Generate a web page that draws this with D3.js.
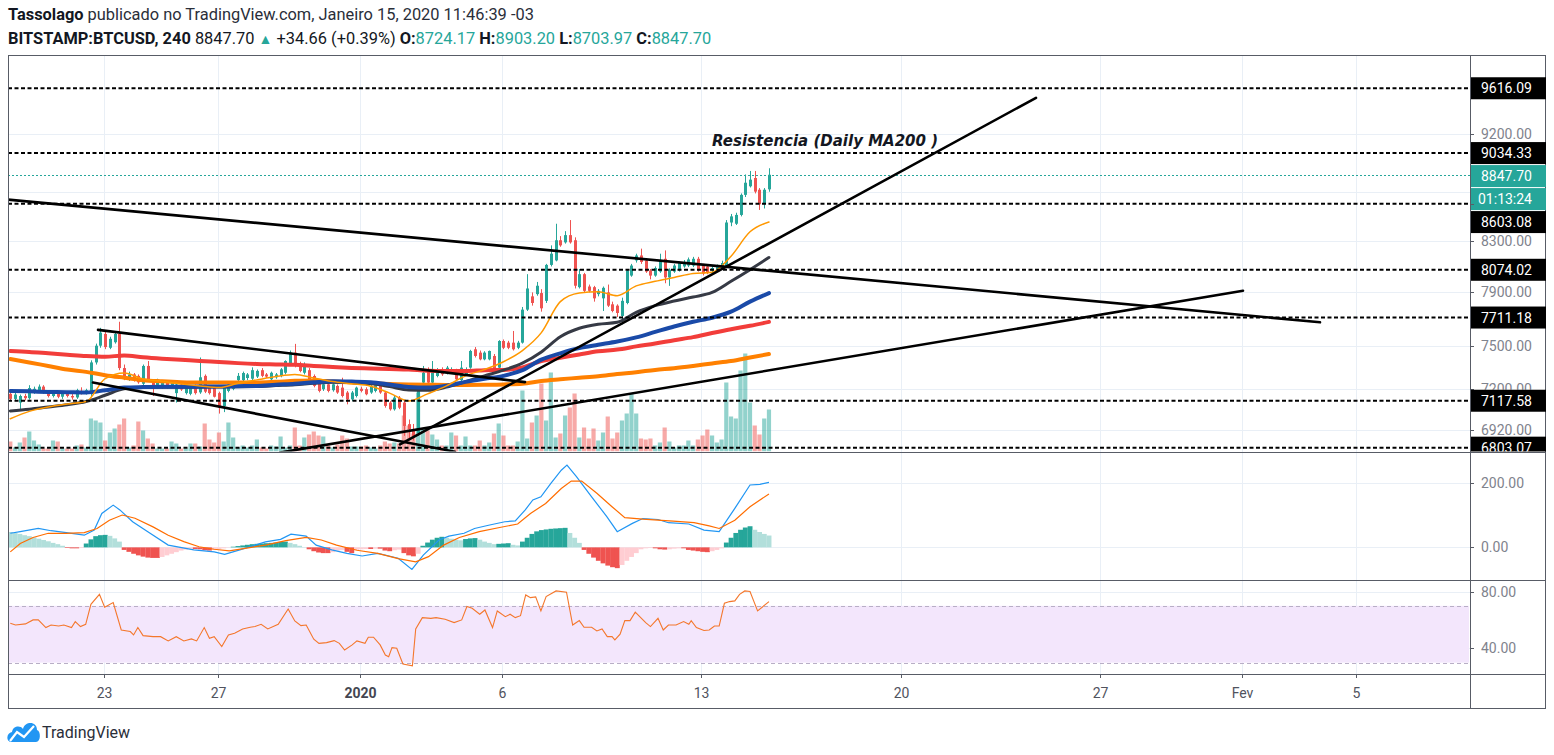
<!DOCTYPE html>
<html><head><meta charset="utf-8">
<script src="https://cdn.jsdelivr.net/npm/d3@7"></script>
<style>
html,body{margin:0;padding:0;background:#fff;}
svg{display:block;font-family:Roboto,"Liberation Sans",Arial,sans-serif;}
</style></head>
<body><svg id="c" width="1554" height="755"></svg>
<script>
// ---------------- DATA ----------------
const candleStart = "2019-12-19T17:00:00Z";   // first visible 4h candle (chart time, UTC-3 shown as-is)
const candleStepHours = 4;
// [open, high, low, close]
const candles = [
[7165,7180,7115,7130],[7130,7175,7120,7160],[7105,7160,7060,7150],[7150,7165,7120,7135],[7135,7225,7125,7205],
[7175,7215,7165,7200],[7185,7230,7175,7215],[7215,7225,7165,7175],[7175,7190,7140,7150],[7150,7180,7140,7170],
[7170,7180,7135,7145],[7145,7175,7130,7165],[7165,7185,7140,7150],[7150,7170,7125,7140],[7140,7200,7130,7190],
[7185,7210,7160,7175],[7175,7200,7160,7190],[7165,7400,7150,7385],[7385,7520,7370,7505],[7505,7635,7490,7600],
[7590,7605,7480,7495],[7490,7570,7480,7555],[7530,7605,7520,7590],[7590,7680,7330,7345],[7345,7370,7260,7280],
[7270,7320,7255,7300],[7300,7310,7250,7260],[7290,7300,7235,7245],[7235,7370,7225,7360],[7360,7395,7250,7265],
[7255,7265,7150,7210],[7210,7270,7200,7255],[7210,7260,7200,7245],[7240,7255,7200,7210],[7215,7255,7205,7245],
[7170,7240,7105,7230],[7230,7240,7185,7195],[7170,7230,7160,7220],[7165,7220,7155,7210],[7220,7230,7160,7170],
[7175,7420,7165,7280],[7290,7300,7170,7180],[7210,7220,7160,7170],[7205,7215,7140,7145],[7170,7180,7030,7070],
[7080,7210,7040,7205],[7185,7240,7175,7230],[7200,7250,7190,7240],[7260,7310,7250,7290],[7260,7320,7250,7310],
[7275,7310,7260,7300],[7270,7350,7260,7330],[7285,7335,7275,7325],[7330,7345,7280,7290],[7300,7310,7275,7285],
[7266,7320,7255,7312],[7280,7310,7270,7300],[7289,7345,7280,7336],[7312,7400,7300,7395],[7372,7470,7360,7455],
[7455,7518,7350,7360],[7360,7390,7315,7324],[7312,7385,7300,7372],[7330,7345,7260,7266],[7289,7300,7210,7220],
[7243,7255,7175,7185],[7197,7240,7185,7231],[7231,7245,7175,7185],[7190,7240,7180,7231],[7220,7230,7165,7174],
[7208,7277,7140,7150],[7174,7185,7093,7127],[7127,7185,7115,7174],[7150,7215,7140,7208],[7200,7215,7175,7185],
[7197,7210,7155,7162],[7174,7230,7165,7220],[7185,7235,7175,7225],[7220,7230,7165,7174],[7174,7185,7070,7082],
[7105,7115,7050,7059],[7059,7150,7050,7139],[7139,7150,7060,7070],[7105,7115,6881,6947],[6959,6990,6859,6925],
[6925,6960,6850,6880],[6900,7210,6880,7197],[7243,7360,7230,7312],[7336,7350,7230,7243],[7243,7395,7235,7336],
[7289,7345,7280,7324],[7336,7350,7290,7301],[7312,7360,7300,7348],[7324,7350,7310,7336],[7324,7340,7260,7266],
[7260,7395,7250,7348],[7301,7350,7290,7336],[7348,7475,7340,7467],[7479,7495,7420,7431],[7455,7470,7400,7407],
[7407,7465,7400,7455],[7407,7470,7400,7467],[7431,7445,7330,7336],[7348,7545,7340,7539],[7539,7550,7480,7490],
[7527,7540,7480,7490],[7527,7612,7470,7479],[7490,7540,7480,7527],[7527,7790,7520,7770],[7770,8040,7760,7930],
[7870,7900,7800,7820],[7887,7980,7875,7951],[7895,7925,7755,7780],[7836,8120,7820,8112],[8112,8266,8100,8200],
[8147,8440,8140,8307],[8307,8340,8255,8266],[8290,8380,8280,8348],[8348,8470,8280,8290],[8307,8330,7930,7951],
[7940,8080,7930,8040],[8040,8050,7900,7912],[7945,7960,7900,7912],[7940,7950,7830,7855],[7887,7925,7870,7912],
[7855,7945,7760,7935],[7900,7960,7790,7800],[7810,7830,7750,7760],[7800,7810,7715,7745],[7723,7860,7660,7836],
[7820,8080,7810,8068],[8029,8120,8020,8107],[8147,8200,8130,8186],[8186,8240,8120,8135],[8147,8160,8050,8060],
[8068,8080,8000,8029],[8029,8100,8020,8088],[8060,8200,8050,8147],[8160,8226,7970,8015],[8015,8085,7950,8075],
[8060,8120,8050,8107],[8068,8140,8060,8127],[8100,8150,8090,8127],[8107,8170,8095,8155],[8107,8175,8095,8160],
[8160,8175,8060,8068],[8107,8120,8030,8045],[8100,8115,8040,8055],[8068,8100,8040,8088],[8068,8115,8055,8107],
[8088,8145,8075,8127],[8100,8470,8090,8450],[8450,8520,8420,8500],[8440,8530,8430,8512],[8512,8690,8500,8678],
[8678,8850,8660,8780],[8750,8880,8740,8806],[8820,8880,8690,8705],[8721,8735,8553,8600],[8600,8735,8565,8721],
[8724.17,8903.20,8703.97,8847.70]
];
// volume per candle (relative units)
const volumes = [
10,4,9,14,20,11,7,3,3,11,10,3,3,3,6,7,4,33,31,29,11,19,23,27,33,4,6,30,21,13,8,3,3,3,10,8,3,3,8,8,5,28,12,9,19,10,29,14,4,6,4,6,12,4,3,
6,5,15,4,6,24,6,14,17,20,16,15,6,4,7,16,13,5,5,5,6,4,3,6,10,8,9,8,36,26,18,59,23,21,17,12,6,6,19,16,6,15,6,6,11,6,9,18,28,16,6,6,10,
61,13,29,36,68,31,79,14,18,36,44,58,14,24,13,23,11,19,35,13,19,31,38,58,38,13,12,13,6,9,24,10,4,6,6,11,6,12,16,22,16,9,12,69,35,33,81,98,49,26,17,33,42
];
// moving averages sampled at candle indices
const maIdx = [0,4,8,12,16,20,24,28,32,36,40,44,48,52,56,60,64,68,72,76,80,84,88,92,96,100,104,108,112,116,120,124,128,132,136,140,144,148,152,156,160];
const maFast = [6995,7045,7075,7095,7112,7270,7310,7268,7252,7234,7220,7208,7238,7262,7285,7300,7275,7250,7235,7218,7170,7116,7165,7220,7290,7335,7390,7470,7600,7830,7895,7905,7875,7950,7985,8015,8045,8055,8180,8375,8454];
const maMid  = [7048,7060,7075,7090,7112,7155,7200,7208,7210,7210,7211,7212,7214,7216,7222,7228,7238,7245,7243,7236,7215,7192,7190,7212,7250,7290,7330,7380,7460,7570,7632,7662,7676,7750,7800,7835,7865,7900,7985,8075,8170];
const maBlue = [7185,7182,7178,7176,7174,7190,7208,7212,7214,7214,7215,7216,7218,7220,7228,7235,7245,7252,7250,7246,7230,7212,7208,7222,7248,7270,7290,7330,7405,7450,7488,7512,7535,7565,7605,7645,7680,7710,7755,7830,7895];
const maRed  = [7467,7460,7450,7440,7430,7425,7435,7422,7412,7404,7395,7388,7380,7374,7371,7368,7360,7352,7346,7342,7338,7335,7326,7324,7324,7330,7332,7350,7395,7418,7442,7465,7477,7500,7521,7545,7567,7597,7625,7650,7679];
const maSlow = [7410,7385,7360,7335,7318,7295,7277,7260,7252,7246,7243,7243,7243,7243,7248,7255,7258,7250,7243,7238,7234,7230,7228,7227,7227,7228,7230,7235,7254,7266,7277,7288,7303,7316,7332,7344,7360,7378,7395,7420,7445];
// MACD
const macdIdx = [0,2.1,5.9,8.6,11.8,15.6,17.7,19.3,21.7,23.1,25.8,29,33.3,38.7,43,45.2,48.4,53.8,57,59.2,62.4,64.5,67.8,71,74.2,77.5,81.8,84.7,87.1,90.4,92.5,95.7,97.9,101.1,104.3,106.5,108.6,110.2,111.9,114,116.2,117.4,119.4,122.6,125.8,128,131.2,133.4,136.6,138.8,143.1,146.3,149.5,152.8,156,158.1,160];
const macdVal = [44,49,59,52,46,38,54,106,132,117,80,49,7,-8,-14,-22,-8,17,25,41,35,7,-8,-19,-27,-19,-34,-69,-24,23,35,44,59,70,80,83,117,148,158,200,241,257,221,158,96,49,75,90,87,77,73,54,49,122,195,197,203];
const sigIdx = [0,2.1,4.8,8,11.8,15.6,18.3,20.9,23.6,26.3,30.1,33.3,36.6,39.8,43,46.2,49.5,53.8,58.1,62.4,65.6,68.8,73.1,77.5,81.8,85.5,88.2,91.4,94.7,98.9,103.2,107,109.7,112.9,116.2,118.3,120.5,123.7,126.9,129.6,133.4,136.6,139.8,144.2,147.4,149.5,152.8,156,160];
const sigVal = [-14,12,31,44,44,46,59,85,101,91,64,38,18,2,-6,-11,-3,7,21,31,23,7,-9,-19,-35,-45,-29,7,31,49,62,73,106,137,184,207,207,169,127,93,88,85,82,77,67,59,85,127,167];
const histVal = [48,45,42,38,35,31,27,23,19,14,10,5,-2,-3,-3,-2,12,25,35,38,39,36,28,18,-8,-14,-20,-25,-29,-32,-33,-33,-30,-25,-20,-15,-10,-7,
-4,-5,-6,-9,-10,-8,-5,-3,-1,2,4,6,8,10,11,12,13,14,15,17,18,14,10,5,1,-6,-12,-16,-18,-18,-15,-10,-8,-14,-18,-8,-6,-5,-5,-4,-4,
-10,-12,-9,-7,-18,-25,-28,-20,5,15,24,30,33,30,27,24,22,26,28,29,24,18,14,10,11,12,13,8,6,18,30,42,50,54,56,58,59,60,61,45,30,14,
-8,-20,-32,-42,-50,-57,-62,-65,-55,-42,-30,-18,-6,-3,-2,-3,-6,-7,-6,-4,-3,-3,-8,-10,-12,-14,-15,-12,-8,-3,15,30,45,55,62,66,55,48,42,37];
// RSI
const rsiIdx = [0,1.1,3.2,4.8,5.9,7.5,8.6,10.2,11.3,12.9,13.7,14.8,15.9,17,18.8,19.9,21.7,23.4,25.3,26,26.9,28,30.1,31.7,33.3,35,36.6,38.2,39.3,40.9,42,43,44.6,46,47.3,49,50.6,51.6,52.9,54.3,56.5,58.6,60,61.3,62.4,64,65.1,66.7,68.3,69.4,70.5,72.1,73.1,74.8,75.5,76.6,78,79.1,79.8,80.5,81.5,82.8,84.8,85.5,86.9,88.7,89.8,91.7,93.6,95.2,96.3,97.4,99,100.1,101.7,102.7,104.4,105.4,106.5,107.6,108.7,109.7,110.8,111.9,113,115.1,117.3,118.6,120,121,122.6,123.7,124.8,125.9,126.9,127.5,128.6,129.6,130.7,131.8,134,135,136.6,137.7,138.8,140.4,142,143.1,143.6,144.7,146.3,147.4,148.5,149.5,150.6,151.7,152.8,153.8,154.9,156,157.6,160];
const rsiVal = [57.7,56.5,57.3,60.1,60.1,54.7,56.5,55.8,56.5,54.7,58.9,55.4,57,71.1,78.1,69,72.3,53,51.9,49.5,54.7,49,48.3,48.3,45.3,48.3,45.3,46.7,45.3,54.7,47.2,48.3,41.3,49.5,50.7,53.7,54.9,55.4,57,53.7,57,67.8,59.4,56.1,56.5,46.5,43.6,44.1,45.5,43.6,38.9,42.5,45.3,43.6,47.9,47.9,42.5,35.4,34.2,40.6,40.1,29.1,27.7,53.7,61.7,61.2,61.7,60.5,58.2,60.1,69.5,68.3,64.1,67.1,54.7,66.4,62.4,64.1,61.7,63.1,77.7,75.8,76.3,66.4,76.5,80.5,79.6,56.5,59.6,54.9,54.9,52.3,53.7,48.3,48.3,46,50,59.6,59.6,65.5,58.2,55.4,61.2,53,56.5,56.5,58.9,57,59.6,54.7,52.6,53,55.8,55.8,71.8,73,73.5,78.1,80.5,80.1,66.4,73];
// axes
const priceTicks = [9200, 8700, 8300, 7900, 7500, 7200, 6920];
const levelPrices = [9616.09, 9034.33, 8603.08, 8074.02, 7711.18, 7117.58, 6803.07];
const lastPrice = 8847.70;
const countdown = "01:13:24";
const macdTicks = [200, 0];
const rsiTicks = [80, 40];
const rsiBand = [70, 30];
const timeTicks = ["2019-12-23","2019-12-27","2020-01-01","2020-01-06","2020-01-13","2020-01-20","2020-01-27","2020-02-01","2020-02-05"];
const timeTickLabels = ["23","27","2020","6","13","20","27","Fev","5"];
// drawings: [time1, price1, time2, price2]
const trendlines = [
 ["2019-12-19T15:04:00Z", 8638, "2020-02-03T17:50:00Z", 7676],
 ["2019-12-22T19:00:00Z", 7620, "2020-01-06T19:12:00Z", 7246],
 ["2019-12-22T14:45:00Z", 7243, "2020-01-04T08:08:00Z", 6777],
 ["2019-12-29T04:30:00Z", 6771, "2020-02-01T00:53:00Z", 7913],
 ["2020-01-02T09:45:00Z", 6824, "2020-01-24T18:16:00Z", 9528]
];
const noteText = "Resistencia (Daily MA200 )";
const noteAt = ["2020-01-13T09:00:00Z", 9096];

// ---------------- LAYOUT ----------------
const L = 8, R = 1470, RA = 1545, T = 55, MB = 451.5, MACDB = 580, RSIB = 674, XB = 708;
const UP = "#26a69a", DN = "#ef5350";
const GRID = "#e9eff6", FRAME = "#585c66", AXT = "#7f838d";

const svg = d3.select("#c");
const DAYMS = 864e5, jan1 = Date.UTC(2020,0,1);
const x = d3.scaleUtc()
  .domain([new Date(jan1 - 12.3726*DAYMS), new Date(jan1 + 39.0158*DAYMS)])
  .range([L, R]);
const y = d3.scaleLog().domain([6778, 9929]).range([MB, T]);
const yMacd = d3.scaleLinear().domain([-102, 298]).range([MACDB, 452]);
const yRsi = d3.scaleLinear().domain([22, 88.2]).range([RSIB, MACDB]);
const yVol = d3.scaleLinear().domain([0, 100]).range([MB, MB - 100]);

const t0 = Date.parse(candleStart);
const ct = i => new Date(t0 + i * candleStepHours * 3600e3);
const cx = i => x(ct(i));

const defs = svg.append("defs");
function clip(id, x0, y0, w, h){ defs.append("clipPath").attr("id", id).append("rect").attr("x",x0).attr("y",y0).attr("width",w).attr("height",h); }
clip("cMain", L, T, R-L, MB-T);
clip("cMacd", L, MB, R-L, MACDB-MB);
clip("cRsi", L, MACDB, R-L, RSIB-MACDB);
clip("cAxMain", R, T, RA-R+2, MB-T);

// ---------- header ----------
const hdr = svg.append("g").attr("font-size", 16.4).attr("fill", "#131722");
const l1 = hdr.append("text").attr("x", 8).attr("y", 20);
l1.append("tspan").attr("font-weight", 700).text("Tassolago");
l1.append("tspan").attr("fill","#2a2e39").text(" publicado no TradingView.com, Janeiro 15, 2020 11:46:39 -03");
const l2 = hdr.append("text").attr("x", 8).attr("y", 44);
const o = candles[candles.length-1];
l2.append("tspan").attr("font-weight", 700).text("BITSTAMP:BTCUSD, 240");
l2.append("tspan").text(" " + lastPrice.toFixed(2) + " ");
l2.append("tspan").attr("fill", UP).attr("font-size", 14).text("▲");
l2.append("tspan").text(" +34.66 (+0.39%) ");
[["O:",o[0]],["H:",o[1]],["L:",o[2]],["C:",o[3]]].forEach((p,k)=>{
  l2.append("tspan").attr("font-weight",700).text((k? " ":"") + p[0]);
  l2.append("tspan").attr("fill",UP).text(p[1].toFixed(2));
});

// ---------- grids ----------
const grid = svg.append("g").attr("stroke", GRID).attr("stroke-width", 1).attr("shape-rendering","crispEdges");
timeTicks.forEach(s => {
  const xx = Math.round(x(new Date(s + "T00:00:00Z"))) + 0.5;
  grid.append("line").attr("x1", xx).attr("x2", xx).attr("y1", T).attr("y2", RSIB);
});
priceTicks.forEach(p => { const yy = Math.round(y(p)) + 0.5; grid.append("line").attr("x1", L).attr("x2", R).attr("y1", yy).attr("y2", yy); });
macdTicks.forEach(v => { const yy = Math.round(yMacd(v)) + 0.5; grid.append("line").attr("x1", L).attr("x2", R).attr("y1", yy).attr("y2", yy); });
rsiTicks.forEach(v => { const yy = Math.round(yRsi(v)) + 0.5; grid.append("line").attr("x1", L).attr("x2", R).attr("y1", yy).attr("y2", yy); });

// ---------- main pane ----------
const main = svg.append("g").attr("clip-path", "url(#cMain)");
main.append("g").selectAll("rect").data(volumes).join("rect")
  .attr("x", (d,i) => cx(i) - 2.1).attr("width", 4.2)
  .attr("y", d => yVol(d)).attr("height", d => MB - yVol(d))
  .attr("fill", (d,i) => candles[i][3] >= candles[i][0] ? UP : DN)
  .attr("fill-opacity", 0.5);
const cg = main.append("g").selectAll("g").data(candles).join("g");
cg.append("line")
  .attr("x1", (d,i) => Math.round(cx(i)) + 0.5).attr("x2", (d,i) => Math.round(cx(i)) + 0.5)
  .attr("y1", d => y(d[1])).attr("y2", d => y(d[2]))
  .attr("stroke", d => d[3] >= d[0] ? UP : DN).attr("stroke-width", 1);
cg.append("rect")
  .attr("x", (d,i) => Math.round(cx(i)) - 1).attr("width", 3)
  .attr("y", d => y(Math.max(d[0], d[3])))
  .attr("height", d => Math.max(1, y(Math.min(d[0], d[3])) - y(Math.max(d[0], d[3]))))
  .attr("fill", d => d[3] >= d[0] ? UP : DN);
function maLine(vals, color, w){
  const line = d3.line().x((d,k) => cx(maIdx[k])).y(d => y(d)).curve(d3.curveMonotoneX);
  main.append("path").datum(vals).attr("d", line).attr("fill","none").attr("stroke", color)
    .attr("stroke-width", w).attr("stroke-linejoin","round").attr("stroke-linecap","round");
}
maLine(maSlow, "#ff8000", 4);
maLine(maRed, "#f23d3a", 4);
maLine(maMid, "#363a45", 3);
maLine(maBlue, "#1a4aa8", 4);
maLine(maFast, "#ff9800", 1.5);
levelPrices.forEach(p => {
  const yy = y(p);
  main.append("line").attr("x1", L).attr("x2", R).attr("y1", yy).attr("y2", yy)
    .attr("stroke", "#000").attr("stroke-width", 2).attr("stroke-dasharray", "4,2.5");
});
main.append("line").attr("x1", L).attr("x2", R).attr("y1", Math.round(y(lastPrice))+0.5).attr("y2", Math.round(y(lastPrice))+0.5)
  .attr("stroke", UP).attr("stroke-width", 1).attr("stroke-dasharray", "2,2");
trendlines.forEach(tl => {
  main.append("line")
    .attr("x1", x(new Date(tl[0]))).attr("y1", y(tl[1]))
    .attr("x2", x(new Date(tl[2]))).attr("y2", y(tl[3]))
    .attr("stroke", "#000").attr("stroke-width", 2.6).attr("stroke-linecap","round");
});
main.append("text").attr("x", x(new Date(noteAt[0]))).attr("y", y(noteAt[1]))
  .attr("font-family", "'DejaVu Sans', Verdana, sans-serif").attr("font-style","italic").attr("font-weight",700)
  .attr("font-size", 15).attr("fill", "#131722").text(noteText);

// ---------- MACD pane ----------
const macdG = svg.append("g").attr("clip-path", "url(#cMacd)");
macdG.append("g").selectAll("rect").data(histVal).join("rect")
  .attr("x", (d,i) => cx(i) - 2.4).attr("width", 4.9)
  .attr("y", d => Math.min(yMacd(d), yMacd(0))).attr("height", d => Math.abs(yMacd(d) - yMacd(0)))
  .attr("fill", (d,i) => {
    const prev = i > 0 ? histVal[i-1] : d;
    if (d >= 0) return prev < d ? "#26a69a" : "#b2dfdb";
    return prev < d ? "#ffcdd2" : "#ef5350";
  });
const macdLine = d3.line().x(d => cx(d[0])).y(d => yMacd(d[1]));
macdG.append("path").datum(macdIdx.map((v,k)=>[v, macdVal[k]])).attr("d", macdLine)
  .attr("fill","none").attr("stroke","#2196f3").attr("stroke-width",1.2);
macdG.append("path").datum(sigIdx.map((v,k)=>[v, sigVal[k]])).attr("d", macdLine)
  .attr("fill","none").attr("stroke","#ff6d00").attr("stroke-width",1.2);

// ---------- RSI pane ----------
const rsiG = svg.append("g").attr("clip-path", "url(#cRsi)");
rsiG.append("rect").attr("x", L).attr("width", R - L - 1).attr("y", yRsi(rsiBand[0])).attr("height", yRsi(rsiBand[1]) - yRsi(rsiBand[0]))
  .attr("fill", "#f3e6fc");
rsiBand.forEach(v => {
  rsiG.append("line").attr("x1", L).attr("x2", R - 1).attr("y1", Math.round(yRsi(v))+0.5).attr("y2", Math.round(yRsi(v))+0.5)
    .attr("stroke", "#b8aec6").attr("stroke-dasharray", "4,3");
});
const rsiLine = d3.line().x(d => cx(d[0])).y(d => yRsi(d[1]));
rsiG.append("path").datum(rsiIdx.map((v,k)=>[v, rsiVal[k]])).attr("d", rsiLine)
  .attr("fill","none").attr("stroke","#f4772c").attr("stroke-width",1.1);

// ---------- frame ----------
const fr = svg.append("g").attr("stroke", FRAME).attr("stroke-width", 1).attr("shape-rendering","crispEdges").attr("fill","none");
fr.append("rect").attr("x", L + 0.5).attr("y", T + 0.5).attr("width", RA - L).attr("height", XB - T);
fr.append("line").attr("x1", R + 0.5).attr("x2", R + 0.5).attr("y1", T).attr("y2", XB);
[MB, MACDB, RSIB].forEach(yy => fr.append("line").attr("x1", L).attr("x2", RA + 0.5).attr("y1", Math.round(yy)+0.5).attr("y2", Math.round(yy)+0.5));

// ---------- price axis ----------
const AXF = 14;
const ax = svg.append("g").attr("font-size", AXF);
const axMain = ax.append("g").attr("clip-path", "url(#cAxMain)");
// label boxes with stacking
const labs = levelPrices.map(p => ({p, y: y(p), text: p.toFixed(2), fill: "#000"}));
labs.push({p: lastPrice, y: y(lastPrice), text: lastPrice.toFixed(2), fill: UP, timer: true});
labs.sort((a,b) => a.y - b.y);
const BH = 22;
let lastBottom = -1e9;
const boxes = [];
labs.forEach(lb => {
  const cy = Math.max(lb.y, lastBottom + 1 + BH/2);
  lb.cy = cy; lastBottom = cy + BH/2; boxes.push([cy - BH/2, cy + BH/2]);
  if (lb.timer) { lb.ty = lastBottom + 1 + BH/2; lastBottom = lb.ty + BH/2; boxes.push([lb.ty - BH/2, lb.ty + BH/2]); }
});
// tick labels (partly hidden behind boxes, clipped to visible part)
priceTicks.forEach((p, k) => {
  const yy = y(p);
  axMain.append("line").attr("x1", R).attr("x2", R + 4).attr("y1", Math.round(yy)+0.5).attr("y2", Math.round(yy)+0.5).attr("stroke", FRAME);
  let top = yy - 8, bot = yy + 8;
  boxes.forEach(b => {
    if (b[1] > top && b[0] < bot) {
      if (b[0] > yy - 8 && b[0] <= yy + 8) bot = Math.min(bot, b[0]);
      if (b[1] >= yy - 8 && b[1] < yy + 8 && b[0] <= yy - 8) top = Math.max(top, b[1]);
      if (b[0] <= yy - 8 && b[1] >= yy + 8) { bot = top; }
    }
  });
  if (bot - top < 4) return;
  const id = "tk" + k;
  defs.append("clipPath").attr("id", id).append("rect").attr("x", R).attr("y", top).attr("width", RA - R).attr("height", bot - top);
  axMain.append("g").attr("clip-path", `url(#${id})`)
    .append("text").attr("x", R + 11).attr("y", yy).attr("dy", "0.36em").attr("fill", AXT).text(p.toFixed(2));
});
labs.forEach(lb => {
  axMain.append("line").attr("x1", R).attr("x2", R + 4).attr("y1", Math.round(lb.y)+0.5).attr("y2", Math.round(lb.y)+0.5).attr("stroke", FRAME);
  axMain.append("rect").attr("x", R + 1).attr("y", lb.cy - BH/2).attr("width", RA - R).attr("height", BH).attr("fill", lb.fill);
  axMain.append("text").attr("x", R + 11).attr("y", lb.cy).attr("dy", "0.36em").attr("fill", "#fff").text(lb.text);
  if (lb.timer) {
    axMain.append("rect").attr("x", R + 1).attr("y", lb.ty - BH/2).attr("width", RA - R).attr("height", BH).attr("fill", lb.fill);
    axMain.append("text").attr("x", R + 8).attr("y", lb.ty).attr("dy", "0.36em").attr("fill", "#fff").text(countdown);
  }
});
macdTicks.forEach(v => {
  const yy = yMacd(v);
  ax.append("line").attr("x1", R).attr("x2", R + 4).attr("y1", Math.round(yy)+0.5).attr("y2", Math.round(yy)+0.5).attr("stroke", FRAME);
  ax.append("text").attr("x", R + 11).attr("y", yy).attr("dy", "0.36em").attr("fill", AXT).text(v.toFixed(2));
});
rsiTicks.forEach(v => {
  const yy = yRsi(v);
  ax.append("line").attr("x1", R).attr("x2", R + 4).attr("y1", Math.round(yy)+0.5).attr("y2", Math.round(yy)+0.5).attr("stroke", FRAME);
  ax.append("text").attr("x", R + 11).attr("y", yy).attr("dy", "0.36em").attr("fill", AXT).text(v.toFixed(2));
});

// ---------- time axis ----------
const tx = svg.append("g").attr("font-size", 14).attr("text-anchor", "middle");
timeTicks.forEach((s,k) => {
  const xx = Math.round(x(new Date(s + "T00:00:00Z"))) + 0.5;
  tx.append("line").attr("x1", xx).attr("x2", xx).attr("y1", RSIB).attr("y2", RSIB + 4).attr("stroke", FRAME);
  const bold = timeTickLabels[k] === "2020";
  tx.append("text").attr("x", xx).attr("y", 693).attr("dy","0.36em")
    .attr("fill", bold ? "#434651" : "#50535e").attr("font-weight", bold ? 700 : 400).text(timeTickLabels[k]);
});

// ---------- logo ----------
const lg = svg.append("g");
lg.append("path").attr("fill", "#2196f3")
  .attr("d", "M11,742 C6,742 6,733 12,732 C13,726 20,725 23,729 C25,721 37,721 37,730 C41,731 41,742 36,742 Z");
lg.append("polyline").attr("points", "10,741 17,732 24,737 34,726").attr("fill","none").attr("stroke","#fff").attr("stroke-width",2.2);
lg.append("text").attr("x", 42).attr("y", 738).attr("font-size", 16).attr("fill", "#2a2e39").text("TradingView");
</script></body></html>
